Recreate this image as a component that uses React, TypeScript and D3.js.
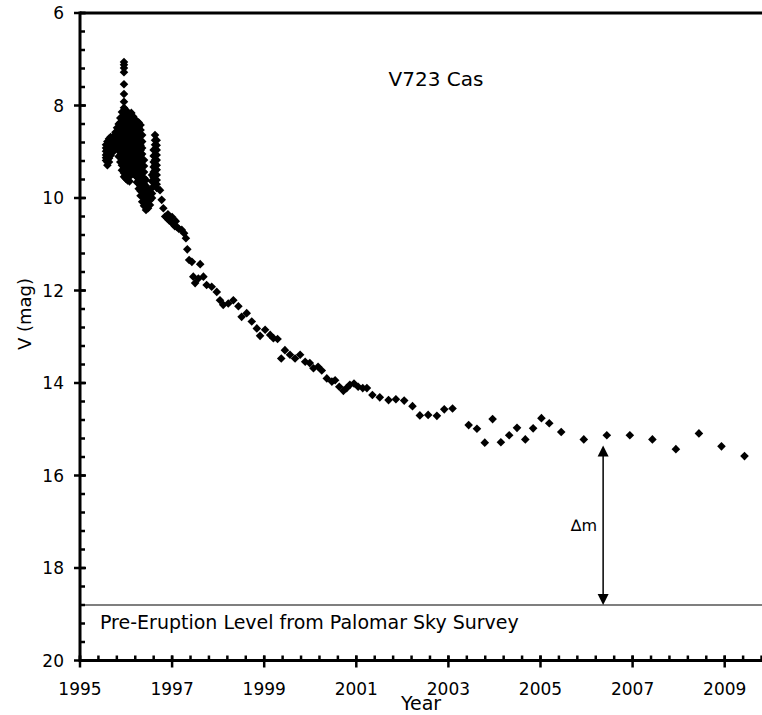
import React from 'react';
import * as d3 from 'd3';

// ---- data ----
// Outburst phase: each entry is [year, list of V magnitudes observed around that epoch]
const burstColumns: [number, number[]][] = [
  [1995.565, [8.85, 8.92, 8.99, 9.07, 9.13, 9.19]],
  [1995.595, [8.78, 8.86, 8.95, 9.04, 9.13, 9.22, 9.29]],
  [1995.630, [8.72, 8.80, 8.88, 8.96, 9.05, 9.14, 9.22]],
  [1995.665, [8.68, 8.76, 8.84, 8.92, 9.00, 9.08]],
  [1995.700, [8.70, 8.78, 8.86, 8.94, 9.02]],
  [1995.735, [8.66, 8.74, 8.82, 8.90, 8.97]],
  [1995.770, [8.58, 8.66, 8.74, 8.82, 8.90]],
  [1995.805, [8.48, 8.57, 8.66, 8.75, 8.84, 8.93]],
  [1995.840, [8.40, 8.49, 8.58, 8.68, 8.78, 8.88, 8.98, 9.10]],
  [1995.875, [8.27, 8.37, 8.47, 8.57, 8.67, 8.77, 8.88, 8.99, 9.10, 9.22]],
  [1995.910, [8.14, 8.25, 8.36, 8.47, 8.58, 8.69, 8.81, 8.93, 9.05, 9.17, 9.29, 9.40]],
  [1995.955, [7.06, 7.12, 7.19, 7.28, 7.54, 7.75, 7.92, 8.05, 8.15, 8.25, 8.36, 8.47, 8.58, 8.69, 8.80, 8.91, 9.02, 9.13, 9.24, 9.35, 9.46, 9.54]],
  [1995.995, [8.10, 8.20, 8.30, 8.41, 8.52, 8.63, 8.74, 8.85, 8.96, 9.07, 9.18, 9.29, 9.40, 9.51, 9.58]],
  [1996.035, [8.14, 8.24, 8.35, 8.46, 8.57, 8.68, 8.79, 8.90, 9.01, 9.12, 9.23, 9.34, 9.45, 9.55, 9.62]],
  [1996.075, [8.22, 8.33, 8.44, 8.55, 8.66, 8.77, 8.88, 8.99, 9.10, 9.21, 9.32, 9.43, 9.54, 9.64]],
  [1996.115, [8.16, 8.26, 8.36, 8.46, 8.56, 8.66, 8.76, 8.86, 8.96, 9.06, 9.16, 9.27, 9.38, 9.48]],
  [1996.155, [8.24, 8.35, 8.46, 8.57, 8.68, 8.79, 8.90, 9.01, 9.12, 9.23, 9.33]],
  [1996.195, [8.30, 8.41, 8.52, 8.63, 8.74, 8.85, 8.96, 9.07, 9.18, 9.29, 9.40, 9.50]],
  [1996.235, [8.34, 8.45, 8.56, 8.67, 8.78, 8.89, 9.00, 9.11, 9.22, 9.33, 9.44, 9.55, 9.66]],
  [1996.275, [8.37, 8.48, 8.59, 8.70, 8.81, 8.92, 9.03, 9.14, 9.25, 9.36, 9.47, 9.58, 9.69, 9.80]],
  [1996.315, [8.42, 8.53, 8.64, 8.75, 8.86, 8.97, 9.08, 9.19, 9.30, 9.41, 9.52, 9.63, 9.74, 9.85, 9.95]],
  [1996.350, [8.64, 8.78, 8.92, 9.05, 9.18, 9.31, 9.44, 9.57, 9.70, 9.83, 9.96, 10.08]],
  [1996.390, [9.18, 9.31, 9.44, 9.57, 9.70, 9.83, 9.96, 10.08, 10.17]],
  [1996.433, [9.61, 9.74, 9.87, 9.98, 10.09, 10.20, 10.26]],
  [1996.477, [9.83, 9.94, 10.04, 10.13, 10.22]],
  [1996.520, [9.94, 10.05, 10.15]],
  [1996.564, [9.50, 9.64, 9.78, 9.90, 10.00]],
  [1996.600, [8.96, 9.09, 9.22, 9.33, 9.44, 9.56]],
  [1996.629, [8.64, 8.75, 8.85, 8.96, 9.07, 9.18, 9.29, 9.40, 9.50, 9.61, 9.72]],
  [1996.665, [8.75, 8.86, 8.96, 9.07, 9.18, 9.29, 9.39, 9.50, 9.61, 9.70, 9.78]],
];

// Decline phase: [year, V magnitude]
const declinePoints: [number, number][] = [
  [1996.737, 9.83], [1996.774, 10.04], [1996.81, 10.22], [1996.85, 10.40],
  [1996.89, 10.43], [1996.91, 10.35], [1996.93, 10.48], [1996.98, 10.52],
  [1997.00, 10.41], [1997.02, 10.56], [1997.06, 10.61], [1997.08, 10.50],
  [1997.11, 10.63], [1997.15, 10.67], [1997.21, 10.69], [1997.26, 10.76],
  [1997.30, 10.87], [1997.33, 11.11], [1997.37, 11.34], [1997.43, 11.38],
  [1997.61, 11.43], [1997.46, 11.70], [1997.50, 11.84], [1997.57, 11.74],
  [1997.68, 11.70], [1997.75, 11.88], [1997.86, 11.92], [1997.97, 12.03],
  [1998.04, 12.21], [1998.11, 12.31], [1998.22, 12.28], [1998.33, 12.21],
  [1998.44, 12.34], [1998.51, 12.57], [1998.62, 12.49], [1998.73, 12.67],
  [1998.84, 12.82], [1998.91, 12.98], [1999.02, 12.85], [1999.13, 12.96],
  [1999.20, 13.03], [1999.29, 13.05], [1999.37, 13.47], [1999.45, 13.29],
  [1999.56, 13.39], [1999.67, 13.47], [1999.78, 13.39], [1999.89, 13.54],
  [1999.99, 13.57], [2000.07, 13.68], [2000.17, 13.65], [2000.25, 13.73],
  [2000.36, 13.90], [2000.47, 13.97], [2000.54, 13.94], [2000.63, 14.08],
  [2000.72, 14.17], [2000.79, 14.11], [2000.86, 14.04], [2000.95, 14.01],
  [2001.04, 14.08], [2001.14, 14.11], [2001.23, 14.11], [2001.35, 14.26],
  [2001.51, 14.31], [2001.70, 14.37], [2001.86, 14.35], [2002.04, 14.38],
  [2002.22, 14.50], [2002.38, 14.70], [2002.56, 14.69], [2002.75, 14.71],
  [2002.91, 14.57], [2003.09, 14.55], [2003.44, 14.91], [2003.62, 14.99],
  [2003.79, 15.29], [2003.96, 14.78], [2004.14, 15.28], [2004.32, 15.13],
  [2004.49, 14.97], [2004.67, 15.22], [2004.84, 14.98], [2005.02, 14.76],
  [2005.19, 14.87], [2005.45, 15.06], [2005.94, 15.22], [2006.44, 15.13],
  [2006.94, 15.13], [2007.43, 15.22], [2007.94, 15.43], [2008.44, 15.09],
  [2008.93, 15.37], [2009.43, 15.58],
];

const xTickLabels = [1995, 1997, 1999, 2001, 2003, 2005, 2007, 2009];
const yTickLabels = [6, 8, 10, 12, 14, 16, 18, 20];
const preEruptionMag = 18.8;
const arrowYear = 2006.36;
const arrowTopMag = 15.35;
const titleText = 'V723 Cas';
const preEruptionText = 'Pre-Eruption Level from Palomar Sky Survey';

const W = 762;
const H = 715;
const FONT = '"DejaVu Sans", Verdana, sans-serif';

export default function App() {
  const x = d3.scaleLinear().domain([1995, 2010]).range([80, 770.75]);
  const y = d3.scaleLinear().domain([6, 20]).range([13, 660.5]);

  const points: [number, number][] = [];
  burstColumns.forEach(([yr, mags]) => mags.forEach((m) => points.push([yr, m])));
  declinePoints.forEach((p) => points.push(p));

  const xMinor = d3.range(1995, 2010.01, 0.4);
  const yMinor = d3.range(6, 20.01, 0.4);

  const diamond = 'M0,-4.3L4.3,0L0,4.3L-4.3,0Z';
  const x0 = x(1995);
  const yb = y(20);
  const ax = x(arrowYear);
  const yTop = y(arrowTopMag);
  const yBot = y(preEruptionMag);

  return (
    <svg width={W} height={H} style={{ position: 'fixed', left: 0, top: 0, background: '#fff' }} fontFamily={FONT}>
      <rect x={0} y={0} width={W} height={H} fill="#fff" />
      {/* pre-eruption level */}
      <line x1={x0} x2={W + 20} y1={yBot} y2={yBot} stroke="#000" strokeWidth={1.2} />
      <text x={100} y={629} fontSize={19} fill="#000">{preEruptionText}</text>

      {/* delta-m arrow */}
      <line x1={ax} x2={ax} y1={yTop + 10} y2={yBot - 10} stroke="#000" strokeWidth={1.5} />
      <path d={`M${ax},${yTop}L${ax - 5.5},${yTop + 11}L${ax + 5.5},${yTop + 11}Z`} fill="#000" />
      <path d={`M${ax},${yBot}L${ax - 5.5},${yBot - 11}L${ax + 5.5},${yBot - 11}Z`} fill="#000" />
      <text x={ax - 6} y={(yTop + yBot) / 2 + 6} fontSize={16} textAnchor="end" fill="#000">∆m</text>

      {/* data */}
      {points.map(([yr, m], i) => (
        <path key={i} d={diamond} transform={`translate(${x(yr)},${y(m)})`} fill="#000" />
      ))}

      {/* title */}
      <text x={436} y={86} fontSize={20} textAnchor="middle" fill="#000">{titleText}</text>

      {/* axes frame */}
      <line x1={x0} x2={W + 20} y1={y(6)} y2={y(6)} stroke="#000" strokeWidth={3} />
      <line x1={x0} x2={W + 20} y1={yb} y2={yb} stroke="#000" strokeWidth={3} />
      <line x1={x0} x2={x0} y1={y(6) - 1.5} y2={yb + 1.5} stroke="#000" strokeWidth={3} />

      {/* y ticks */}
      {yMinor.map((v, i) => (
        <line key={'ym' + i} x1={x0} x2={x0 + 5} y1={y(v)} y2={y(v)} stroke="#000" strokeWidth={2.5} />
      ))}
      {yTickLabels.map((v) => (
        <g key={'yt' + v}>
          <line x1={x0 - 6} x2={x0 + 6} y1={y(v)} y2={y(v)} stroke="#000" strokeWidth={2.5} />
          <text x={64} y={y(v) + 6} fontSize={17} textAnchor="end" fill="#000">{v}</text>
        </g>
      ))}

      {/* x ticks */}
      {xMinor.map((v, i) => (
        <line key={'xm' + i} x1={x(v)} x2={x(v)} y1={yb} y2={yb - 5} stroke="#000" strokeWidth={2.5} />
      ))}
      {xTickLabels.map((v) => (
        <g key={'xt' + v}>
          <line x1={x(v)} x2={x(v)} y1={yb - 5} y2={yb + 7} stroke="#000" strokeWidth={2.5} />
          <text x={x(v)} y={695} fontSize={17} textAnchor="middle" fill="#000">{v}</text>
        </g>
      ))}

      {/* axis titles */}
      <text x={421} y={710} fontSize={19} textAnchor="middle" fill="#000">Year</text>
      <text transform={`translate(31,${314}) rotate(-90)`} fontSize={18} textAnchor="middle" fill="#000">V (mag)</text>
    </svg>
  );
}
